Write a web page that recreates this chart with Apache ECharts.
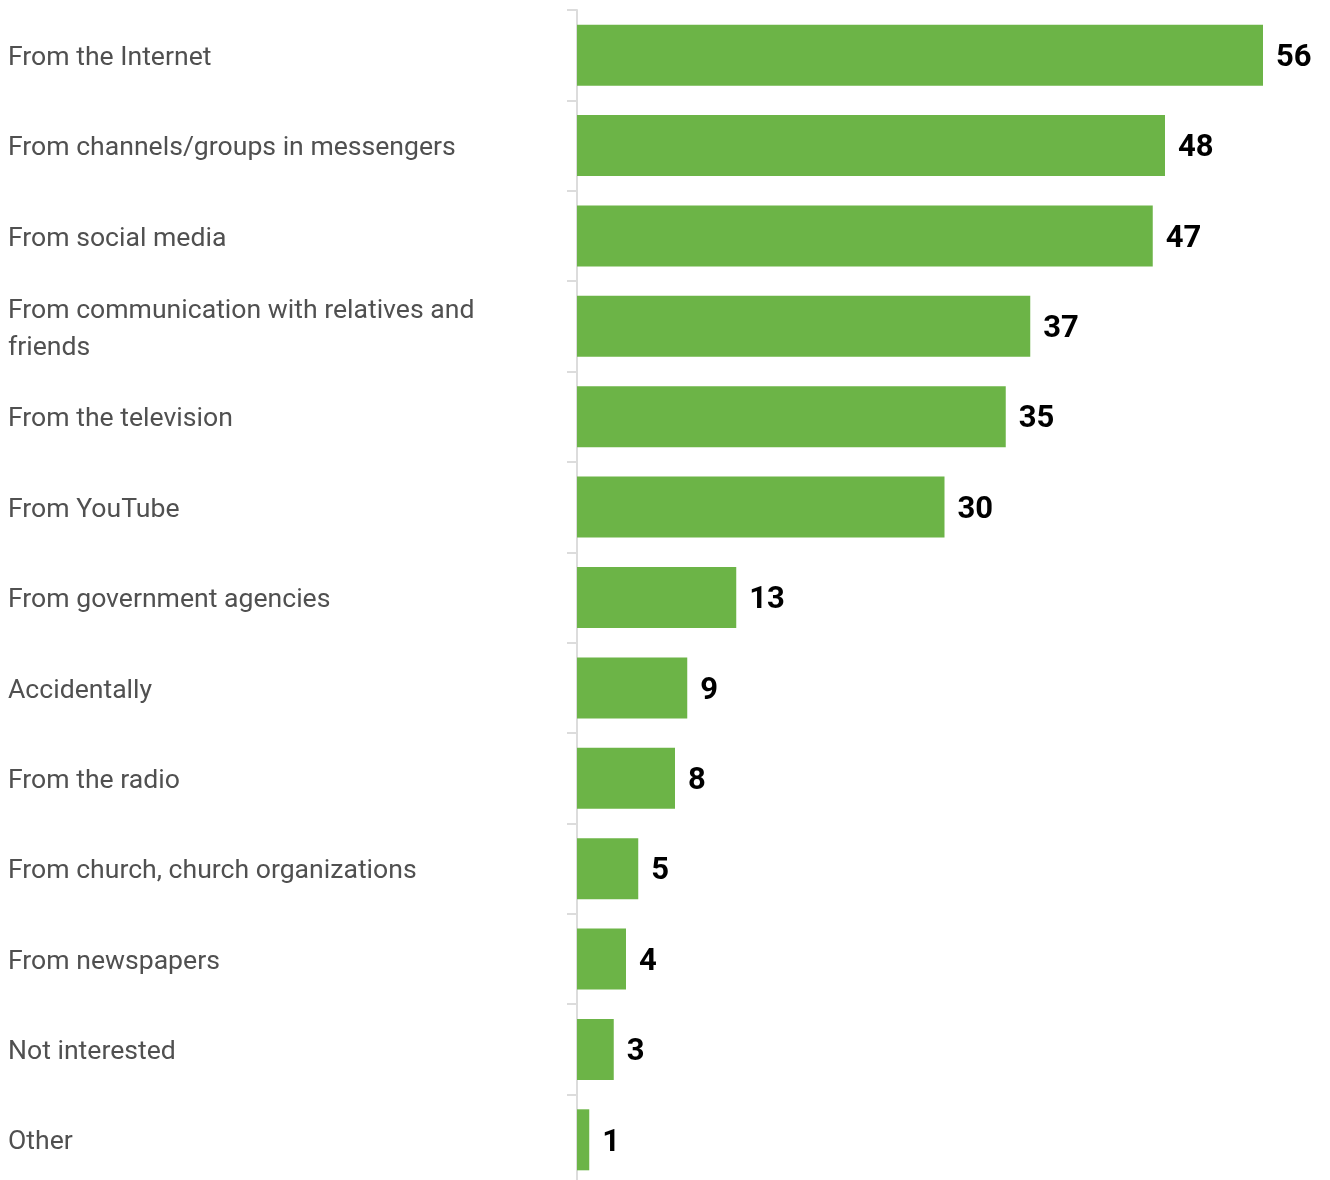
<!DOCTYPE html>
<html>
<head>
<meta charset="utf-8">
<script src="https://cdn.jsdelivr.net/npm/echarts@6/dist/echarts.min.js"></script>
<style>
  html, body { margin: 0; padding: 0; background: #ffffff; overflow: hidden; }
  /* the last band runs a few pixels past the visible window */
  #chart { width: 1330px; height: 1200px; }
</style>
</head>
<body>
<div id="chart"></div>
<script>
// Where respondents get their information, share of answers (%)
const categories = [
  'From the Internet',
  'From channels/groups in messengers',
  'From social media',
  'From communication with relatives and friends',
  'From the television',
  'From YouTube',
  'From government agencies',
  'Accidentally',
  'From the radio',
  'From church, church organizations',
  'From newspapers',
  'Not interested',
  'Other'
];
const values = [56, 48, 47, 37, 35, 30, 13, 9, 8, 5, 4, 3, 1];

const LABEL_FONT = '26.6px Roboto';
const LABEL_WIDTH = 540;

// Word-wrap a category name into lines no wider than LABEL_WIDTH
const measureCtx = document.createElement('canvas').getContext('2d');
measureCtx.font = LABEL_FONT;
function wrapWords(text) {
  const words = text.split(' ');
  const lines = [];
  let line = '';
  for (const w of words) {
    const test = line ? line + ' ' + w : w;
    if (line && measureCtx.measureText(test).width > LABEL_WIDTH) {
      lines.push(line);
      line = w;
    } else {
      line = test;
    }
  }
  if (line) lines.push(line);
  return lines;
}

const chart = echarts.init(document.getElementById('chart'), null, { renderer: 'canvas' });

chart.setOption({
  animation: false,
  backgroundColor: '#ffffff',
  grid: { left: 577, top: 10, width: 735, height: 1175, containLabel: false },
  xAxis: {
    type: 'value',
    min: 0,
    max: 60,
    show: false
  },
  yAxis: {
    type: 'category',
    data: categories,
    inverse: true,
    axisLine: { show: true, lineStyle: { color: '#dcdcdc', width: 2 } },
    axisTick: { show: true, length: 10, lineStyle: { color: '#dcdcdc', width: 2 } },
    axisLabel: {
      align: 'left',
      margin: 569,
      fontFamily: 'Roboto',
      fontSize: 26.6,
      color: '#505050',
      // a thin spacer line on top nudges the text block a little lower
      formatter: (v) => '{s| }\n' + wrapWords(v).map((s) => '{t|' + s + '}').join('\n'),
      rich: {
        s: { fontSize: 1, lineHeight: 6 },
        t: {
          fontFamily: 'Roboto',
          fontSize: 26.6,
          color: '#505050',
          lineHeight: 37
        }
      }
    }
  },
  series: [{
    type: 'bar',
    data: values,
    barCategoryGap: '32.5%',
    itemStyle: { color: '#6cb447' },
    label: {
      show: true,
      position: 'right',
      distance: 13,
      offset: [0, 3],
      fontFamily: 'Roboto',
      fontWeight: 'bold',
      fontSize: 31,
      color: '#000000'
    }
  }]
});
</script>
</body>
</html>
